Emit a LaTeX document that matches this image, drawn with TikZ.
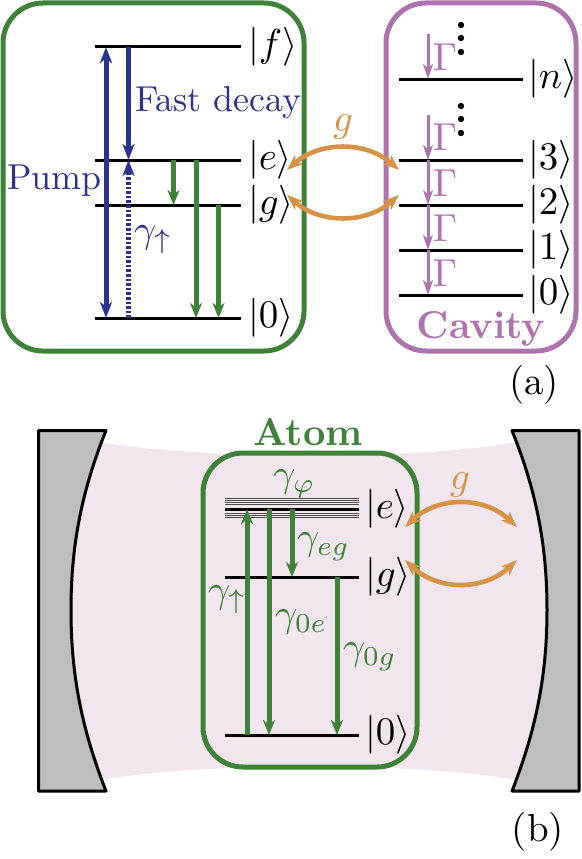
\documentclass[tikz,border=0pt]{standalone}
\usetikzlibrary{arrows.meta,calc}
\definecolor{grn}{RGB}{62,130,56}
\definecolor{blu}{RGB}{44,50,142}
\definecolor{pur}{RGB}{174,114,174}
\definecolor{ora}{RGB}{214,146,68}
\definecolor{pnk}{RGB}{241,229,238}
\definecolor{gry}{RGB}{190,190,190}
\tikzset{
  x=1pt,y=-1pt,
  box/.style={line width=5pt,rounded corners=40pt},
  level/.style={black,line width=3pt},
  thinlevel/.style={black!70,line width=0.9pt},
  lab/.style={scale=3.6,inner sep=0pt,outer sep=0pt},
  mlab/.style={scale=3.9,inner sep=0pt,outer sep=0pt},
  ket/.style={mlab,anchor=west},
  tipb/.style={-{Stealth[length=16pt,width=12pt,inset=4.5pt]}},
  tipg/.style={-{Stealth[length=15pt,width=12pt,inset=4.5pt]}},
  tipboth/.style={{Stealth[length=16pt,width=12pt,inset=4.5pt]}-{Stealth[length=16pt,width=12pt,inset=4.5pt]}},
  bluearrow/.style={blu,line width=5pt},
  greenarrow/.style={grn,line width=5pt},
  cavarrow/.style={pur,line width=3pt,-{Stealth[length=15pt,width=10pt,inset=4.5pt]}},
  coupling/.style={ora,line width=4.6pt,tipboth},
  mirror/.style={draw=black,fill=gry,line width=3pt,line join=round},
}
\begin{document}
\begin{tikzpicture}
\useasboundingbox (0,0) rectangle (581,859);
% ---------- panel (a), atom
\draw[grn,box] (3,3) rectangle (304,351);
\coordinate (af) at (95,47);
\coordinate (ae) at (95,160);
\coordinate (ag) at (95,205);
\coordinate (az) at (95,318);
\foreach \c in {af,ae,ag,az} \draw[level] (\c) -- ++(146,0);
\draw[bluearrow,tipboth] (106,0 |- af) -- (106,0 |- az);
\draw[bluearrow,tipb] (128.5,0 |- af) -- (128.5,0 |- ae);
\draw[blu,line width=5pt,dash pattern=on 2.6pt off 2pt] (128.5,0 |- az) -- (128.5,174);
\draw[bluearrow,tipb] (128.5,175) -- (128.5,0 |- ae);
\draw[greenarrow,tipg] (173.5,0 |- ae) -- (173.5,0 |- ag);
\draw[greenarrow,tipg] (196,0 |- ae) -- (196,0 |- az);
\draw[greenarrow,tipg] (218.5,0 |- ag) -- (218.5,0 |- az);
\node[ket] (kf) at (248,47) {$|f\rangle$};
\node[ket] (ke) at (248,160) {$|e\rangle$};
\node[ket] (kg) at (248,205) {$|g\rangle$};
\node[ket] (kz) at (248,318) {$|0\rangle$};
\node[lab,blu,anchor=west] (fast) at (135,103) {Fast decay};
\node[lab,blu,anchor=west] (pump) at (7,181) {Pump};
\node[mlab,blu,anchor=west] (gu) at (134,240) {$\gamma_{\uparrow}$};
% ---------- panel (a), cavity
\draw[pur,box] (386,3) rectangle (576,351);
\coordinate (cn) at (399,79);
\coordinate (c3) at (399,160);
\coordinate (c2) at (399,205);
\coordinate (c1) at (399,250);
\coordinate (c0) at (399,295);
\foreach \c in {cn,c3,c2,c1,c0} \draw[level] (\c) -- ++(124,0);
\draw[cavarrow] (428,34) -- (428,0 |- cn);
\draw[cavarrow] (428,115) -- (428,0 |- c3);
\draw[cavarrow] (428,0 |- c3) -- (428,0 |- c2);
\draw[cavarrow] (428,0 |- c2) -- (428,0 |- c1);
\draw[cavarrow] (428,0 |- c1) -- (428,0 |- c0);
\foreach \y/\n in {57/a,137/b,183/c,228/d,273/e}
  \node[mlab,pur] (G\n) at (445,\y) {$\Gamma$};
\foreach \y/\n in {25/a,38/b,52/c,106/d,119/e,133/f}
  \fill[black] (461,\y) circle (3.2pt);
\node[ket] (kn) at (528,79) {$|n\rangle$};
\node[ket] (k3) at (528,160) {$|3\rangle$};
\node[ket] (k2) at (528,205) {$|2\rangle$};
\node[ket] (k1) at (528,250) {$|1\rangle$};
\node[ket] (k0) at (528,295) {$|0\rangle$};
\node[lab,pur,font=\bfseries,scale=1.08] (cav) at (481,329) {Cavity};
\node[mlab] (a) at (534,385) {(a)};
% couplings (a)
\coordinate (u1) at (287,170);
\coordinate (u2) at (399,170);
\coordinate (l1) at (287,195);
\coordinate (l2) at (399,195);
\draw[coupling] (u1) .. controls (320,141) and (366,141) .. (u2);
\draw[coupling] (l1) .. controls (320,224) and (366,224) .. (l2);
\node[mlab,ora] (ga) at (343,127) {$g$};
% ---------- panel (b)
\fill[pnk] (50,442) -- (101,442) .. controls (200,460) and (420,460) .. (516,442) -- (560,442)
  -- (560,780) -- (516,780) .. controls (420,762) and (200,762) .. (101,780) -- (50,780) -- cycle;
\draw[mirror] (38.5,430.5) -- (106,430.5) .. controls (80,495) and (71,550) .. (71,610)
  .. controls (71,670) and (80,725) .. (106,791) -- (38.5,791) -- cycle;
\draw[mirror] (579,430.5) -- (512,430.5) .. controls (538,495) and (547,550) .. (547,610)
  .. controls (547,670) and (538,725) .. (512,791) -- (579,791) -- cycle;
\draw[grn,box] (203,453) rectangle (417,767);
\node[lab,grn,font=\bfseries,scale=1.08] (atom) at (308,432) {Atom};
\coordinate (be) at (225,509);
\coordinate (bg) at (225,577);
\coordinate (bz) at (225,735);
\foreach \y in {498,500,502,504,513,515,517} \draw[thinlevel] (225,\y) -- (359,\y);
\foreach \c in {be,bg,bz} \draw[level] (\c) -- ++(134,0);
\draw[greenarrow,tipg] (247,0 |- bz) -- (247,0 |- be);
\draw[greenarrow,tipg] (269,0 |- be) -- (269,0 |- bz);
\draw[greenarrow,tipg] (292,0 |- be) -- (292,0 |- bg);
\draw[greenarrow,tipg] (337,0 |- bg) -- (337,0 |- bz);
\node[ket] (bke) at (365,509) {$|e\rangle$};
\node[ket] (bkg) at (365,577) {$|g\rangle$};
\node[ket] (bkz) at (365,735) {$|0\rangle$};
\node[mlab,grn,anchor=west] (gp) at (273,484) {$\gamma_{\varphi}$};
\node[mlab,grn,anchor=west] (geg) at (297,547) {$\gamma_{eg}$};
\node[mlab,grn,anchor=west] (gua) at (208,600) {$\gamma_{\uparrow}$};
\node[mlab,grn,anchor=west] (g0e) at (275,622) {$\gamma_{0e}$};
\node[mlab,grn,anchor=west] (g0g) at (343,657) {$\gamma_{0g}$};
\coordinate (v1) at (405,527);
\coordinate (v2) at (517,527);
\coordinate (w1) at (405,560);
\coordinate (w2) at (517,560);
\draw[coupling] (v1) .. controls (438,496) and (484,496) .. (v2);
\draw[coupling] (w1) .. controls (438,591) and (484,591) .. (w2);
\node[mlab,ora] (gb) at (460,485) {$g$};
\node[mlab] (b) at (538,832) {(b)};
\end{tikzpicture}
\end{document}
